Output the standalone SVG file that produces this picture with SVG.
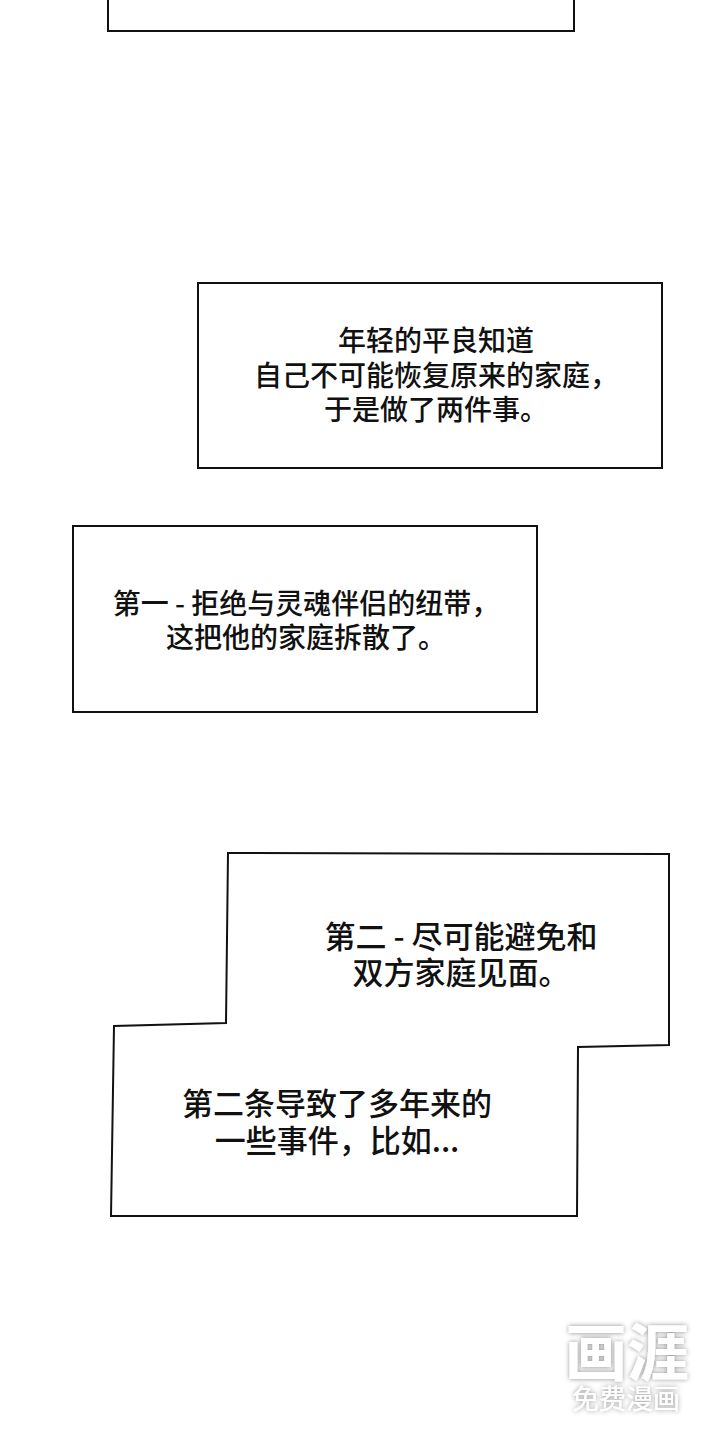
<svg xmlns="http://www.w3.org/2000/svg" width="720" height="1440" viewBox="0 0 720 1440">
<defs>
<style>
.box{fill:#fff;stroke:#111;stroke-width:2;stroke-linejoin:miter}
.t{font-family:"Noto Sans CJK SC","Noto Sans",sans-serif;font-size:28px;font-weight:500;fill:#111;text-anchor:middle}
.t2{font-size:31px}
.wm{font-family:"Noto Sans CJK SC",sans-serif;fill:#fff;text-anchor:middle}
</style>
<filter id="sh" x="-20%" y="-20%" width="140%" height="140%">
<feDropShadow dx="0" dy="0" stdDeviation="2.5" flood-color="#000" flood-opacity="0.45"/>
</filter>
</defs>
<rect width="720" height="1440" fill="#fff"/>
<g id="box-top">
<path class="box" d="M108,-5 L108,31 L574,31 L574,-5"/>
</g>
<g id="box-1">
<rect class="box" x="198" y="283" width="464" height="185"/>
<text class="t" x="436" y="351">年轻的平良知道</text>
<text class="t" x="436" y="386">自己不可能恢复原来的家庭，</text>
<text class="t" x="436" y="420">于是做了两件事。</text>
</g>
<g id="box-2">
<rect class="box" x="73" y="526" width="464" height="186"/>
<text class="t" x="306" y="614">第一 - 拒绝与灵魂伴侣的纽带，</text>
<text class="t" x="306" y="648">这把他的家庭拆散了。</text>
</g>
<g id="box-3">
<polygon class="box" points="228,853 669,854 669,1045 578,1047 577,1216 111,1216 114,1026 226,1023"/>
<text class="t t2" x="461" y="948">第二 - 尽可能避免和</text>
<text class="t t2" x="461" y="984">双方家庭见面。</text>
<text class="t t2" x="337" y="1115">第二条导致了多年来的</text>
<text class="t t2" x="337" y="1152">一些事件，比如...</text>
</g>
<g id="connectors"></g>
<g id="watermark" filter="url(#sh)">
<text class="wm" x="627" y="1376" font-size="62" font-weight="bold">画涯</text>
<text class="wm" x="626" y="1409" font-size="27">免费漫画</text>
</g>
</svg>
